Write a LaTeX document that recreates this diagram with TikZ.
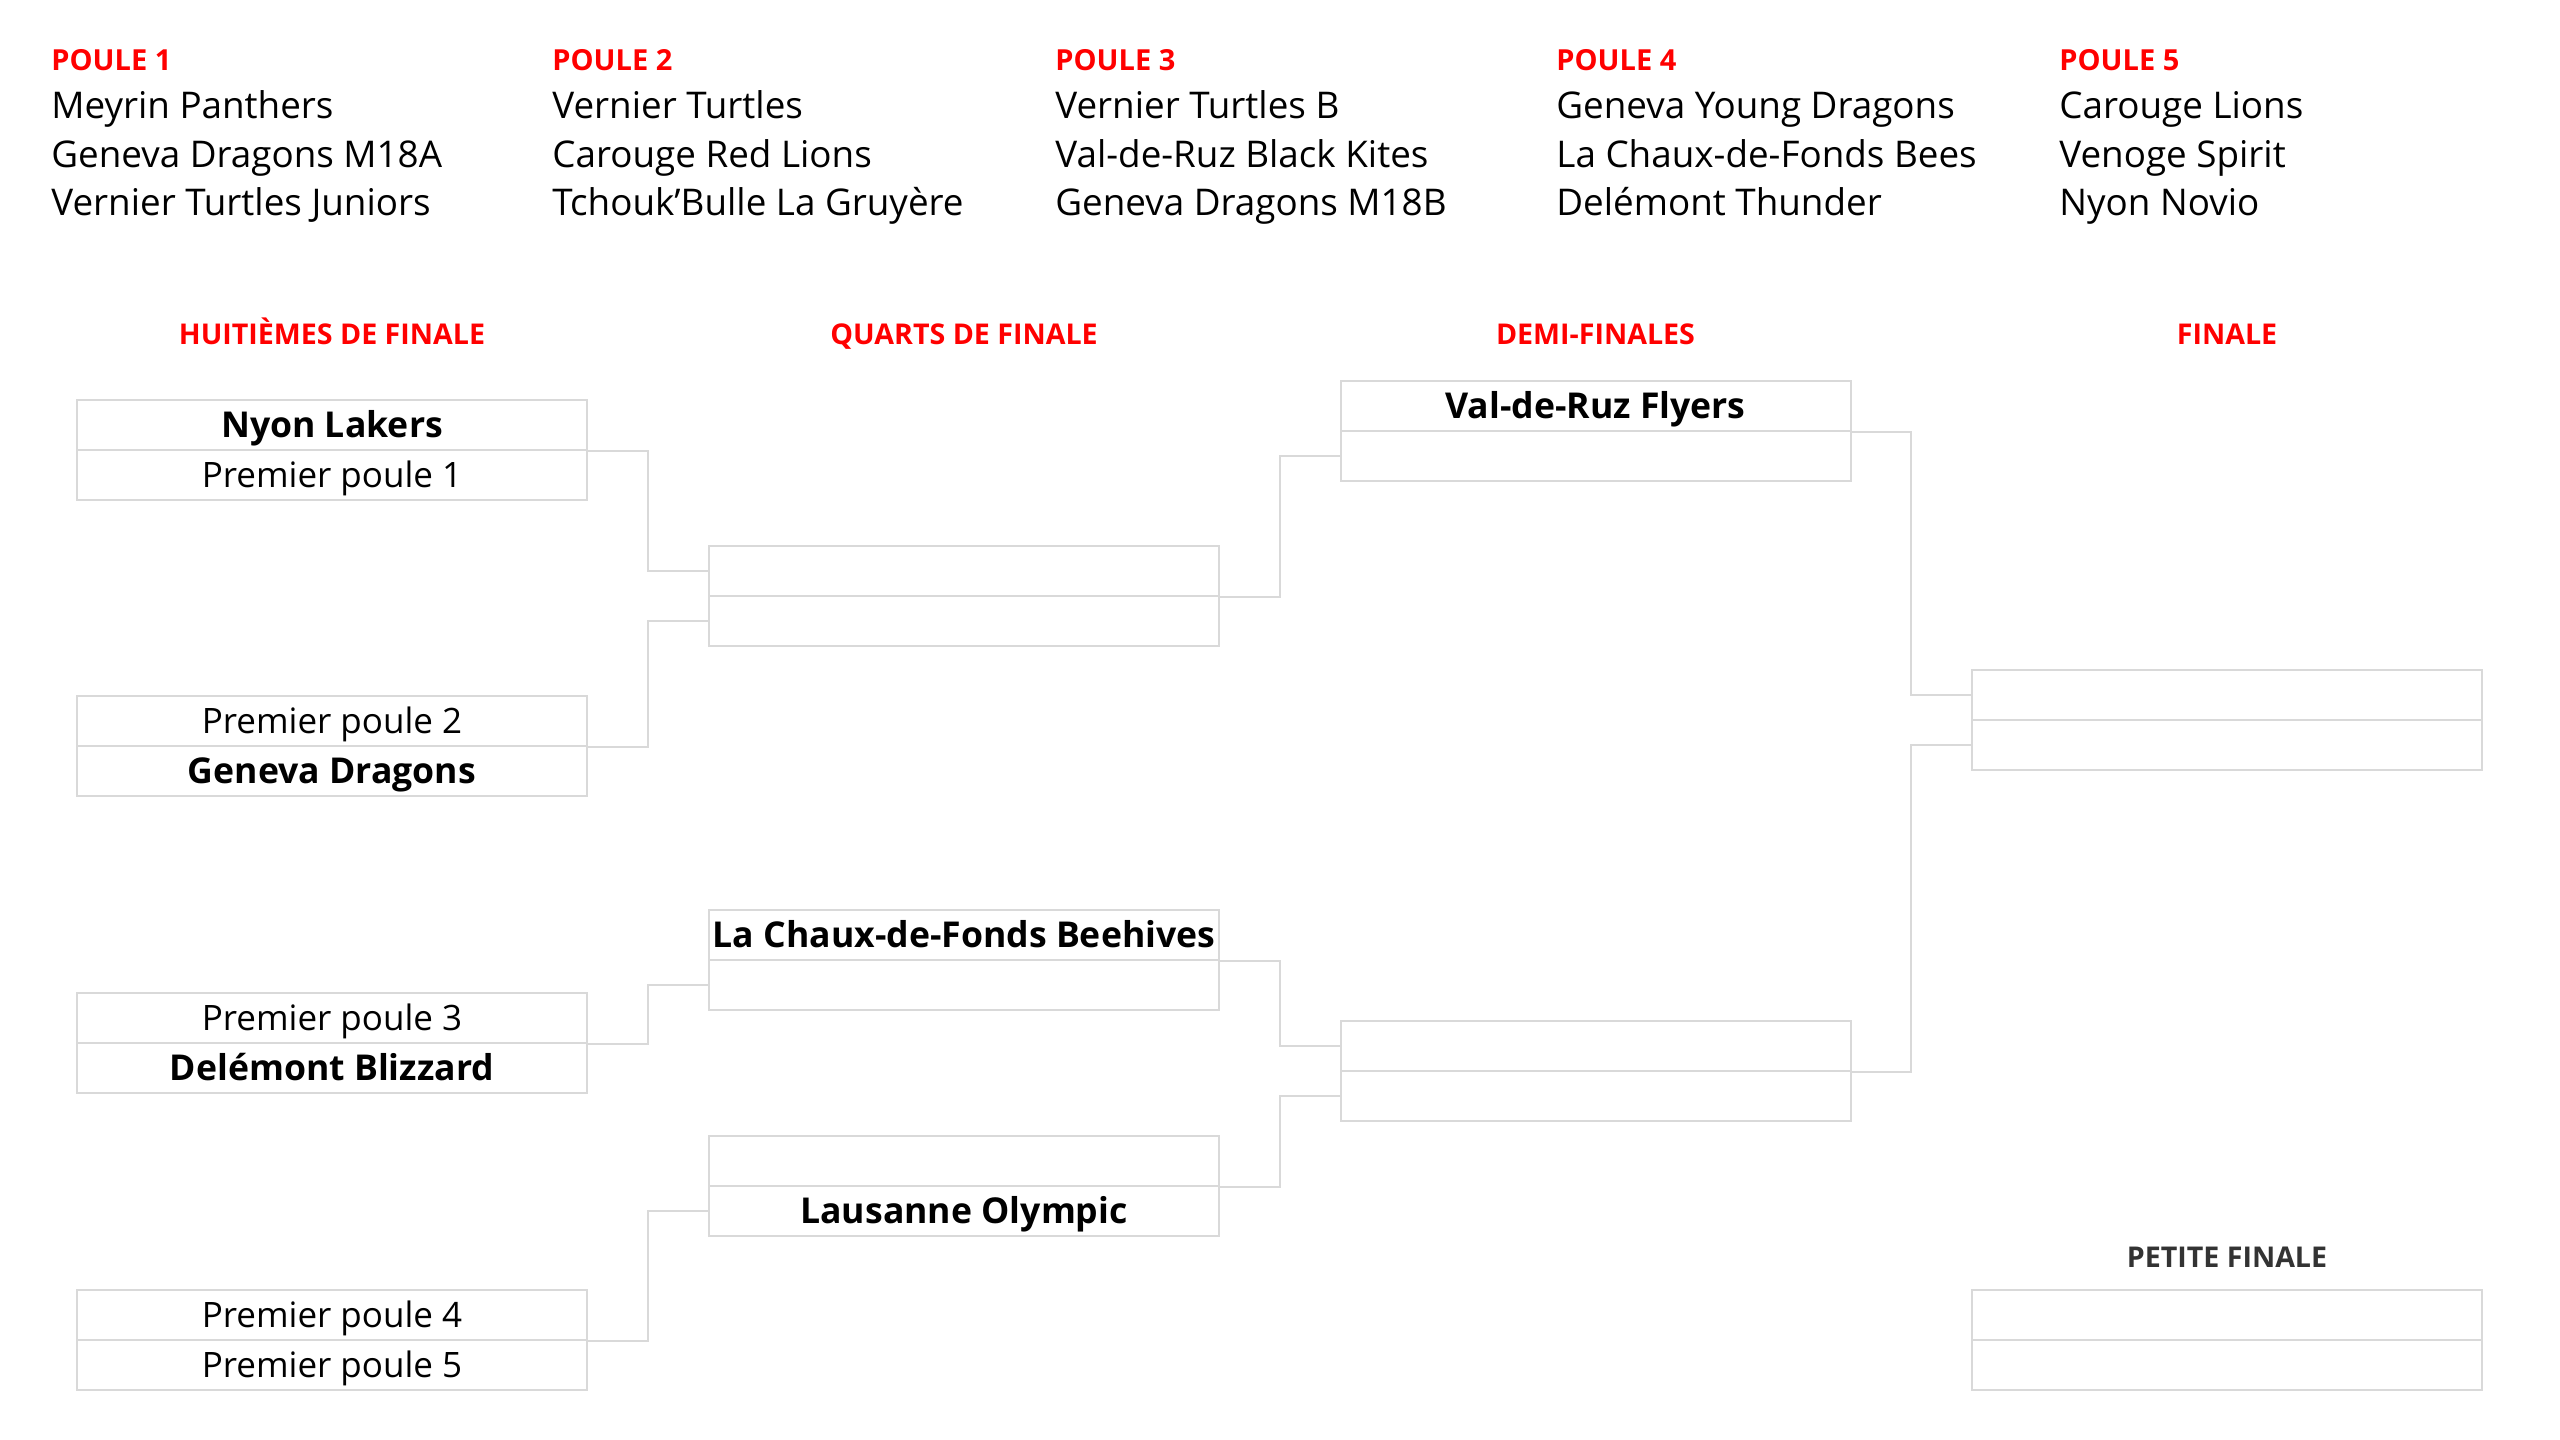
\documentclass[tikz,border=0pt]{standalone}
\usepackage{fontspec}
\setmainfont{Open Sans}
\usetikzlibrary{calc}
\definecolor{brRed}{HTML}{FF0000}
\definecolor{brLine}{HTML}{D9D9D9}
\definecolor{brDark}{HTML}{333333}
\begin{document}
\begin{tikzpicture}[x=0.5pt,y=-0.5pt,
  rowbox/.style={draw=brLine,line width=1pt,minimum width=255pt,minimum height=25pt,inner sep=0pt,text height=14pt,text depth=2pt,font=\fontsize{17.5}{20}\selectfont},
  win/.style={font=\fontsize{17.8}{20}\selectfont\bfseries},
  roundhead/.style={anchor=base,inner sep=0pt,font=\fontsize{14.3}{17}\selectfont\bfseries,text=brRed},
  poolhead/.style={anchor=base west,inner sep=0pt,font=\fontsize{14.5}{17}\selectfont\bfseries,text=brRed},
  poolteam/.style={anchor=base west,inner sep=0pt,font=\fontsize{18.4}{22}\selectfont},
  link/.style={draw=brLine,line width=1pt}
]
\useasboundingbox[fill=white] (0,0) rectangle (2560,1440);

% pools
\foreach \i/\x/\a/\b/\c in {
  1/51/Meyrin Panthers/Geneva Dragons M18A/Vernier Turtles Juniors,
  2/552/Vernier Turtles/Carouge Red Lions/Tchouk’Bulle La Gruyère,
  3/1055/Vernier Turtles B/Val-de-Ruz Black Kites/Geneva Dragons M18B,
  4/1556/Geneva Young Dragons/La Chaux-de-Fonds Bees/Delémont Thunder,
  5/2059/Carouge Lions/Venoge Spirit/Nyon Novio}{
  \node[poolhead] (p\i) at (\x,70) {POULE \i};
  \node[poolteam] (p\i a) at (\x,118) {\a};
  \node[poolteam] (p\i b) at (\x,167) {\b};
  \node[poolteam] (p\i c) at (\x,215) {\c};
}

% round headers
\node[roundhead] (th) at (332,344) {HUITIÈMES DE FINALE};
\node[roundhead] (tq) at (964,344) {QUARTS DE FINALE};
\node[roundhead] (ts) at (1595.5,344) {DEMI-FINALES};
\node[roundhead] (tf) at (2227,344) {FINALE};
\node[roundhead,text=brDark] (tp) at (2227,1267.5) {PETITE FINALE};

% huitiemes
\node[rowbox,win] (h1a) at (332,425) {Nyon Lakers};
\node[rowbox] (h1b) at (332,475) {Premier poule 1};
\node[rowbox] (h2a) at (332,721) {Premier poule 2};
\node[rowbox,win] (h2b) at (332,771) {Geneva Dragons};
\node[rowbox] (h3a) at (332,1018) {Premier poule 3};
\node[rowbox,win] (h3b) at (332,1068) {Delémont Blizzard};
\node[rowbox] (h4a) at (332,1315) {Premier poule 4};
\node[rowbox] (h4b) at (332,1365) {Premier poule 5};

% quarts
\node[rowbox] (q1a) at (964,571) {};
\node[rowbox] (q1b) at (964,621) {};
\node[rowbox,win] (q2a) at (964,935) {La Chaux-de-Fonds Beehives};
\node[rowbox] (q2b) at (964,985) {};
\node[rowbox] (q3a) at (964,1161) {};
\node[rowbox,win] (q3b) at (964,1211) {Lausanne Olympic};

% demi
\node[rowbox,win] (s1a) at (1595.5,406) {Val-de-Ruz Flyers};
\node[rowbox] (s1b) at (1595.5,456) {};
\node[rowbox] (s2a) at (1595.5,1046) {};
\node[rowbox] (s2b) at (1595.5,1096) {};

% finale
\node[rowbox] (f1a) at (2227,695) {};
\node[rowbox] (f1b) at (2227,745) {};

% petite finale
\node[rowbox] (pfa) at (2227,1315) {};
\node[rowbox] (pfb) at (2227,1365) {};

% connectors
\foreach \s/\t in {h1a/q1a, h2a/q1b, h3a/q2b, h4a/q3b, q1a/s1b, q2a/s2a, q3a/s2b, s1a/f1a, s2a/f1b}{
  \draw[link] (\s.south east) -| ($(\s.south east)!.5!(\t.west)$) |- (\t.west);
}
\end{tikzpicture}
\end{document}
